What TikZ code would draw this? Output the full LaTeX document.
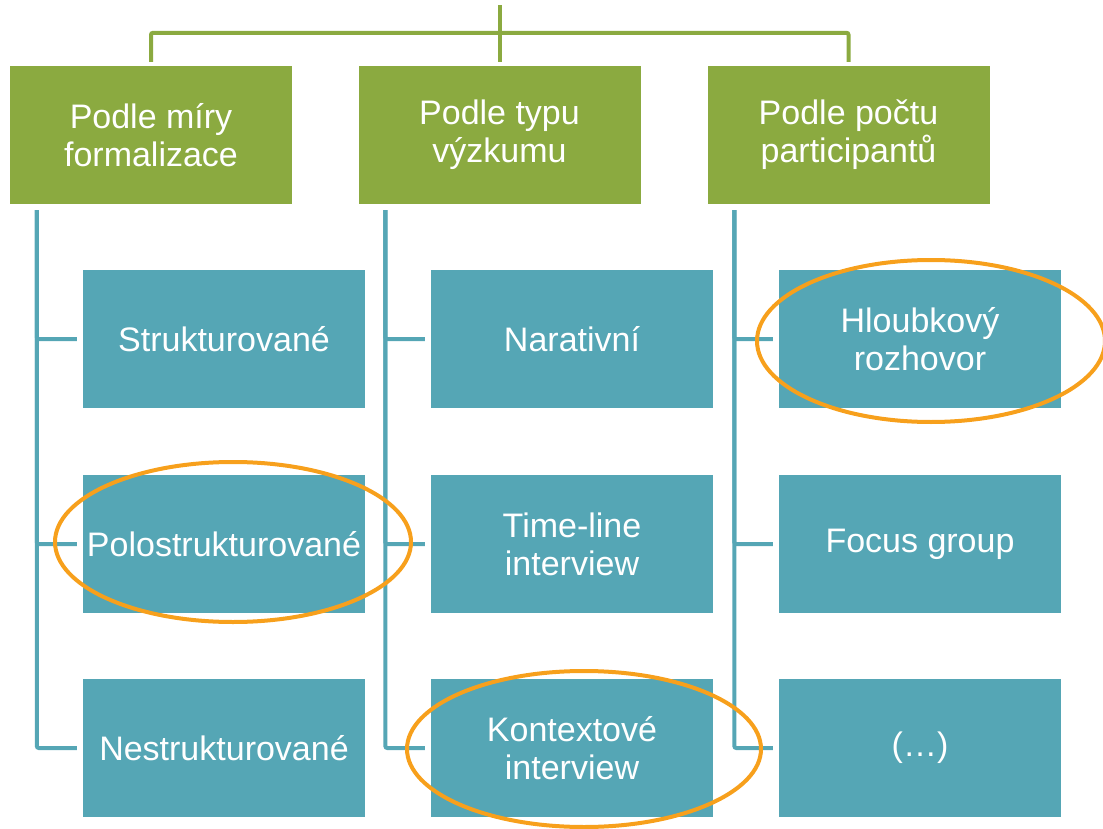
\documentclass[tikz,border=0pt]{standalone}
\usepackage{fontspec}
\setmainfont{Liberation Sans}
\definecolor{boxgreen}{HTML}{8BAA40}
\definecolor{boxteal}{HTML}{55A6B5}
\definecolor{markorange}{HTML}{F7A01C}
\tikzset{
  headbox/.style={fill=boxgreen, minimum width=282pt, minimum height=138pt, inner sep=0pt, align=center, text=white, font=\fontsize{34}{38}\selectfont},
  itembox/.style={fill=boxteal, minimum width=282pt, minimum height=138pt, inner sep=0pt, align=center, text=white, font=\fontsize{34}{38}\selectfont},
  greenline/.style={draw=boxgreen, line width=4pt, rounded corners=2pt},
  tealline/.style={draw=boxteal, line width=4pt, rounded corners=2pt},
  marker/.style={draw=markorange, line width=4pt}
}
\begin{document}
\begin{tikzpicture}[x=1pt,y=-1pt]
\useasboundingbox (0,0) rectangle (1103,829);
\clip (0,0) rectangle (1103,829);
% header boxes
\node[headbox] (g1) at (151,135) {Podle míry\\formalizace};
\node[headbox] (g2) at (499.5,135) {Podle typu\\výzkumu};
\node[headbox] (g3) at (848.5,135) {Podle počtu\\participantů};
% item boxes
\node[itembox] (b11) at (224,339) {Strukturované};
\node[itembox] (b12) at (224,544) {Polostrukturované};
\node[itembox] (b13) at (224,748) {Nestrukturované};
\node[itembox] (b21) at (572,339) {Narativní};
\node[itembox] (b22) at (572,544) {Time-line\\interview};
\node[itembox] (b23) at (572,748) {Kontextové\\interview};
\node[itembox] (b31) at (920,339) {Hloubkový\\rozhovor};
\node[itembox] (b32) at (920,544) {Focus group};
\node[itembox] (b33) at (920,748) {(…)};
% top bracket
\draw[greenline] ([yshift=4pt]g1.north) -- ++(0,-29) -| ([yshift=4pt]g3.north);
\draw[greenline] ([yshift=4pt]g2.north) -- ++(0,-57);
% column connectors
\foreach \g/\a/\b/\c in {g1/b11/b12/b13, g2/b21/b22/b23, g3/b31/b32/b33}{
  \draw[tealline] ([xshift=27pt,yshift=-6pt]\g.south west) |- ([xshift=-6pt]\c.west);
  \draw[tealline] ([xshift=27pt,yshift=-6pt]\g.south west) |- ([xshift=-6pt]\a.west);
  \draw[tealline] ([xshift=27pt,yshift=-6pt]\g.south west) |- ([xshift=-6pt]\b.west);
}
% highlight ellipses
\draw[marker] ([xshift=9pt,yshift=2pt]b12.center) ellipse [x radius=178pt, y radius=80pt];
\draw[marker] ([xshift=12pt,yshift=-1pt]b23.center) ellipse [x radius=177pt, y radius=78pt];
\draw[marker] ([xshift=11pt,yshift=-2pt]b31.center) ellipse [x radius=174pt, y radius=81pt];
\end{tikzpicture}
\end{document}
